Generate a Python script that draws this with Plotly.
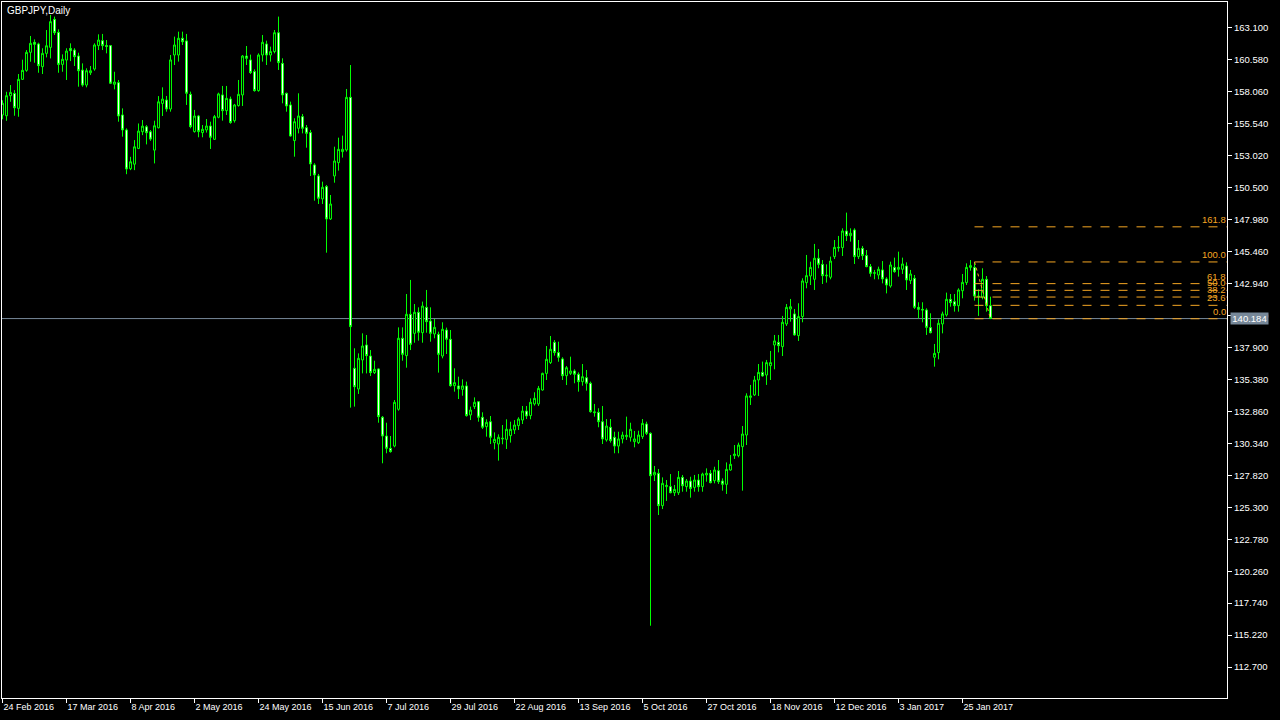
import plotly.graph_objects as go
import pandas as pd

chart_title = "GBPJPY,Daily"
first_date = "2016-02-24"

open_prices = [
    156.24, 156.18, 157.76, 157.94, 156.76, 159.05, 159.76, 161.18, 161.97, 161.84,
    160.05, 161.10, 161.57, 163.78, 162.76, 160.23, 160.57, 161.49, 161.36, 160.89,
    159.78, 158.60, 159.57, 159.86, 161.71, 162.10, 161.71, 161.71, 158.66, 158.79,
    156.24, 155.06, 152.00, 152.36, 153.60, 154.92, 155.31, 154.92, 153.47, 155.23,
    157.15, 157.42, 156.71, 160.97, 160.97, 162.29, 162.08, 157.87, 154.93, 156.16,
    154.85, 155.06, 155.37, 154.32, 156.06, 157.82, 156.58, 157.50, 155.79, 156.98,
    157.82, 160.89, 160.58, 159.66, 158.16, 160.97, 161.84, 160.97, 161.24, 162.73,
    160.31, 157.95, 157.03, 154.22, 155.19, 156.11, 155.24, 154.85, 152.30, 151.43,
    149.62, 150.59, 148.04, 151.43, 152.48, 153.35, 153.48, 157.63, 136.26, 134.63,
    136.92, 138.10, 137.23, 135.92, 136.21, 132.40, 130.92, 129.95, 130.13, 133.03,
    138.63, 137.26, 140.52, 139.02, 140.68, 139.07, 141.07, 139.99, 138.97, 138.94,
    137.23, 139.28, 138.55, 134.89, 134.87, 134.60, 134.87, 132.58, 133.24, 133.63,
    132.40, 131.66, 132.05, 130.40, 130.29, 130.69, 130.66, 130.95, 131.40, 131.74,
    132.18, 132.89, 132.53, 133.45, 133.45, 134.55, 135.86, 136.71, 138.31, 137.50,
    137.00, 135.68, 135.86, 136.05, 135.79, 135.21, 135.52, 135.08, 132.76, 132.79,
    132.05, 130.61, 131.61, 130.82, 130.13, 130.69, 130.87, 130.82, 130.48, 130.40,
    130.87, 131.87, 131.13, 127.85, 127.98, 125.43, 126.93, 126.93, 126.45, 126.45,
    127.66, 126.93, 127.37, 126.87, 127.45, 126.93, 127.85, 127.98, 127.40, 128.19,
    127.37, 127.11, 128.24, 129.37, 129.37, 130.08, 131.00, 133.97, 134.16, 135.34,
    135.94, 135.73, 136.47, 138.10, 138.31, 137.97, 139.76, 140.94, 140.55, 138.84,
    140.34, 143.02, 143.54, 143.28, 144.94, 144.46, 143.54, 143.44, 145.07, 145.75,
    145.78, 147.09, 146.72, 147.17, 145.07, 145.72, 145.15, 144.28, 143.75, 143.62,
    144.02, 143.31, 142.75, 144.22, 144.07, 144.07, 144.33, 143.18, 143.36, 141.07,
    140.91, 140.86, 139.47, 137.13, 137.50, 139.76, 140.47, 141.70, 141.52, 141.20,
    142.38, 143.02, 144.22, 144.22, 141.96, 141.86, 143.28, 141.20,
]
high_prices = [
    157.40, 158.07, 158.60, 158.20, 159.47, 160.60, 161.36, 162.47, 162.20, 161.94,
    161.50, 162.94, 164.13, 164.00, 163.00, 161.02, 161.50, 161.89, 161.50, 161.15,
    160.31, 159.92, 160.10, 161.89, 162.60, 162.63, 162.15, 161.76, 159.65, 159.00,
    156.76, 155.18, 152.94, 154.26, 155.57, 155.84, 155.44, 155.05, 155.79, 157.73,
    158.42, 157.74, 160.97, 162.42, 162.81, 162.81, 162.63, 158.08, 156.64, 156.24,
    155.45, 155.92, 155.71, 156.24, 158.00, 158.53, 158.53, 157.69, 157.11, 159.00,
    160.97, 161.68, 161.00, 159.84, 161.10, 162.55, 162.10, 161.63, 162.94, 164.00,
    160.71, 158.00, 157.29, 155.98, 157.95, 156.32, 155.45, 155.06, 152.43, 151.59,
    150.98, 150.72, 149.93, 153.74, 154.45, 154.61, 158.29, 160.18, 137.84, 137.44,
    139.02, 138.89, 137.70, 136.86, 136.26, 132.50, 131.97, 130.92, 133.76, 139.49,
    139.49, 142.12, 143.23, 141.33, 141.07, 141.52, 142.44, 141.07, 140.15, 139.15,
    139.89, 139.47, 139.28, 136.26, 135.60, 135.39, 135.21, 133.24, 133.97, 133.68,
    132.79, 132.24, 132.50, 131.21, 131.05, 131.79, 132.24, 132.05, 132.18, 132.40,
    133.29, 133.29, 133.89, 134.37, 134.87, 135.92, 138.02, 138.81, 138.49, 138.36,
    137.13, 136.44, 137.18, 136.18, 135.94, 136.60, 136.13, 135.21, 133.45, 133.11,
    133.29, 132.26, 132.26, 131.26, 131.26, 131.26, 132.45, 131.97, 131.32, 131.34,
    132.26, 132.05, 131.21, 128.56, 128.32, 127.66, 127.45, 127.92, 127.06, 128.16,
    127.85, 127.53, 127.71, 127.85, 127.92, 128.03, 128.37, 128.24, 128.50, 129.03,
    127.58, 128.84, 129.42, 130.21, 130.40, 131.71, 134.29, 134.95, 135.66, 136.60,
    136.79, 136.92, 137.63, 138.89, 138.89, 140.39, 141.33, 141.73, 140.94, 141.39,
    143.36, 145.20, 144.67, 146.07, 145.67, 144.80, 144.46, 145.07, 146.38, 146.70,
    147.30, 148.54, 147.30, 147.30, 146.38, 145.91, 145.59, 144.49, 144.02, 144.28,
    144.72, 143.44, 144.67, 144.99, 145.46, 144.99, 144.62, 144.02, 143.62, 141.47,
    141.47, 140.99, 140.60, 138.18, 140.12, 140.73, 142.23, 142.12, 142.12, 142.57,
    143.70, 144.54, 144.80, 144.65, 142.49, 144.15, 143.54, 141.91,
]
low_prices = [
    155.90, 155.78, 157.28, 156.18, 156.10, 159.00, 159.65, 160.44, 160.36, 159.57,
    159.47, 160.78, 160.70, 162.55, 159.57, 159.65, 159.00, 160.49, 160.10, 158.47,
    158.47, 158.42, 159.39, 159.73, 161.36, 161.36, 161.10, 158.68, 158.26, 155.71,
    154.53, 151.57, 151.89, 151.89, 153.55, 154.65, 153.92, 154.20, 152.42, 155.18,
    156.16, 156.50, 156.50, 160.18, 160.45, 161.76, 157.03, 155.19, 154.85, 154.48,
    154.48, 154.85, 153.56, 154.27, 155.98, 155.79, 156.24, 155.55, 155.64, 156.90,
    156.95, 160.18, 159.47, 158.08, 158.08, 160.45, 160.18, 160.45, 161.10, 159.79,
    157.16, 156.50, 154.53, 152.95, 154.79, 154.79, 153.66, 151.43, 149.48, 149.22,
    149.22, 145.38, 147.96, 150.90, 151.85, 152.88, 153.35, 133.16, 133.24, 134.24,
    135.86, 135.86, 135.65, 135.81, 131.97, 128.77, 129.56, 129.61, 130.03, 132.92,
    136.86, 136.31, 137.70, 138.28, 138.44, 138.28, 139.07, 138.36, 138.63, 135.92,
    137.05, 137.39, 134.81, 134.42, 133.84, 134.10, 132.45, 132.18, 133.05, 132.05,
    131.47, 130.87, 130.29, 129.87, 128.98, 130.27, 129.90, 130.40, 131.08, 131.40,
    131.87, 132.26, 132.24, 133.32, 133.29, 134.50, 135.34, 136.60, 137.26, 136.78,
    135.34, 134.94, 135.73, 135.08, 134.42, 134.89, 134.50, 132.76, 132.45, 131.61,
    130.29, 130.48, 130.40, 129.56, 129.56, 130.34, 130.61, 130.48, 130.03, 130.29,
    130.69, 131.00, 115.96, 127.37, 124.69, 125.16, 125.80, 126.40, 126.19, 126.27,
    126.53, 126.53, 126.06, 126.53, 126.53, 126.53, 127.32, 127.19, 127.19, 127.14,
    126.61, 126.35, 128.19, 129.11, 129.24, 126.61, 130.21, 133.37, 134.08, 134.08,
    135.60, 134.95, 135.34, 136.18, 137.52, 137.23, 139.60, 139.94, 138.84, 138.42,
    139.89, 142.57, 142.83, 142.44, 144.15, 142.91, 143.02, 143.28, 144.88, 145.46,
    145.12, 146.30, 146.25, 144.49, 144.88, 144.80, 144.23, 143.49, 143.28, 143.28,
    142.96, 142.17, 142.62, 143.80, 143.49, 143.70, 142.44, 142.91, 140.94, 140.20,
    139.89, 138.89, 139.02, 136.39, 136.97, 139.02, 140.34, 141.12, 140.73, 140.73,
    141.78, 142.83, 143.96, 141.60, 140.39, 141.70, 140.73, 140.17,
]
close_prices = [
    157.16, 157.76, 158.02, 156.81, 159.05, 159.76, 161.18, 161.89, 161.81, 160.13,
    161.10, 161.70, 163.60, 162.73, 160.23, 160.63, 161.28, 161.31, 160.84, 159.73,
    158.60, 159.73, 159.73, 161.76, 162.15, 161.71, 161.65, 158.74, 158.84, 156.16,
    155.06, 151.98, 152.55, 153.73, 154.97, 155.36, 154.84, 154.34, 155.39, 157.28,
    157.49, 156.71, 160.58, 161.76, 162.29, 162.02, 157.95, 155.32, 156.16, 154.93,
    155.11, 155.37, 154.48, 156.11, 157.90, 156.58, 157.55, 155.64, 157.03, 157.87,
    160.89, 160.71, 159.58, 158.16, 160.97, 161.97, 160.97, 161.24, 162.73, 160.37,
    157.82, 156.95, 154.58, 155.71, 156.16, 155.19, 154.79, 152.38, 151.51, 149.67,
    150.54, 148.04, 149.22, 152.61, 153.53, 153.53, 157.63, 139.55, 134.81, 137.05,
    138.02, 137.26, 135.92, 136.18, 132.45, 130.92, 129.95, 129.69, 133.58, 138.63,
    137.36, 140.52, 138.15, 140.68, 139.10, 141.17, 139.94, 139.02, 139.49, 137.36,
    139.34, 138.55, 134.89, 135.13, 134.63, 134.87, 132.53, 132.97, 133.58, 132.40,
    131.61, 132.00, 130.82, 130.66, 130.82, 130.74, 131.45, 131.45, 131.79, 132.26,
    132.89, 132.50, 133.58, 133.89, 134.68, 135.86, 136.97, 137.76, 137.50, 137.13,
    135.68, 136.31, 136.05, 135.79, 135.21, 135.60, 135.08, 132.84, 132.82, 132.05,
    130.69, 131.71, 130.56, 130.13, 130.69, 131.00, 130.98, 131.45, 130.69, 131.00,
    131.92, 131.13, 127.79, 128.06, 125.43, 127.19, 127.03, 126.45, 126.71, 127.66,
    127.00, 127.37, 126.79, 127.45, 126.93, 127.92, 127.98, 127.24, 128.24, 127.32,
    127.11, 128.29, 128.69, 129.50, 130.21, 131.08, 134.08, 134.08, 135.34, 135.94,
    135.66, 136.71, 136.71, 138.42, 138.05, 139.89, 141.07, 141.12, 138.89, 140.34,
    143.15, 143.57, 144.22, 144.94, 144.46, 143.57, 143.60, 144.72, 145.80, 145.80,
    147.09, 146.72, 146.91, 145.07, 145.72, 145.15, 144.28, 143.75, 143.80, 144.07,
    143.31, 142.83, 144.41, 143.88, 144.22, 144.49, 143.23, 143.70, 141.07, 140.91,
    140.86, 139.49, 139.07, 137.44, 139.81, 140.55, 141.70, 141.44, 141.20, 142.44,
    143.04, 144.22, 144.36, 141.96, 141.91, 143.28, 141.20, 140.184,
]

price_ticks = [112.700, 115.220, 117.740, 120.260, 122.780, 125.300, 127.820,
               130.340, 132.860, 135.380, 137.900, 140.420, 142.940, 145.460,
               147.980, 150.500, 153.020, 155.540, 158.060, 160.580, 163.100]
bid_price = 140.184

fib_ratios = [0.0, 23.6, 38.2, 50.0, 61.8, 100.0, 161.8]
fib_high = 144.65
fib_low = 140.17
fib_start_bar = 243
fib_end_bar = 247

# ---- derived from categories ----
n = len(close_prices)
dates = pd.bdate_range(first_date, periods=n)
bars = list(range(n))
date_tick_bars = list(range(0, n, 16))
date_tick_text = [f"{dates[i].day} {dates[i].strftime('%b %Y')}" for i in date_tick_bars]

X_MIN, X_MAX = -0.125, 306.125
Y_MIN, Y_MAX = 110.26, 165.15

LIME = "#00FF00"
ORANGE = "#F5A623"
FONT = "Liberation Sans"

fig = go.Figure()
fig.add_trace(go.Candlestick(
    x=bars, open=open_prices, high=high_prices, low=low_prices, close=close_prices,
    increasing=dict(line=dict(color=LIME, width=1), fillcolor="#000000"),
    decreasing=dict(line=dict(color=LIME, width=1), fillcolor="#FFFFFF"),
    whiskerwidth=0, showlegend=False, hoverinfo="skip",
))

shapes = []
# bid line
shapes.append(dict(type="line", xref="paper", x0=0, x1=1, yref="y", y0=bid_price, y1=bid_price,
                   line=dict(color="#778899", width=1), layer="below"))
annotations = []
# fibonacci levels
for r in fib_ratios:
    lvl = fib_low + (fib_high - fib_low) * r / 100.0
    shapes.append(dict(type="line", xref="x", x0=fib_start_bar, x1=X_MAX, yref="y", y0=lvl, y1=lvl,
                       line=dict(color=ORANGE, width=1, dash="dash"), layer="above"))
    annotations.append(dict(x=X_MAX, y=lvl, xref="x", yref="y", xanchor="right", yanchor="bottom",
                            text=f"{r:.1f}", showarrow=False, xshift=1, yshift=0,
                            font=dict(family=FONT, size=9.5, color=ORANGE)))
shapes.append(dict(type="line", xref="x", yref="y", x0=fib_start_bar, y0=fib_high,
                   x1=fib_end_bar, y1=fib_low, line=dict(color=ORANGE, width=1, dash="dot"),
                   layer="above"))

# bid label on the price scale
annotations.append(dict(x=1, y=bid_price, xref="paper", yref="y", xanchor="left", yanchor="middle",
                        text=f"{bid_price:.3f}", showarrow=False, xshift=3, bgcolor="#778899",
                        borderpad=0, width=37, height=11,
                        font=dict(family=FONT, size=9.5, color="#FFFFFF")))
# title
annotations.append(dict(x=0, y=1, xref="paper", yref="paper", xanchor="left", yanchor="top",
                        text=chart_title, showarrow=False, xshift=3, yshift=-1,
                        font=dict(family=FONT, size=10, color="#FFFFFF")))

fig.update_layout(
    width=1280, height=720, autosize=False,
    paper_bgcolor="#000000", plot_bgcolor="#000000",
    margin=dict(l=2, r=53, t=2, b=22, pad=0),
    showlegend=False,
    shapes=shapes, annotations=annotations,
    font=dict(family=FONT, size=9, color="#FFFFFF"),
    xaxis=dict(range=[X_MIN, X_MAX], showgrid=False, zeroline=False, showline=True, mirror=True,
               linecolor="#FFFFFF", linewidth=1, ticks="outside", ticklen=4, tickcolor="#FFFFFF",
               tickmode="array", tickvals=date_tick_bars, ticktext=date_tick_text,
               ticklabelposition="outside right",
               tickfont=dict(family=FONT, size=9, color="#FFFFFF"),
               rangeslider=dict(visible=False), fixedrange=True),
    yaxis=dict(range=[Y_MIN, Y_MAX], side="right", showgrid=False, zeroline=False, showline=True,
               mirror=True, linecolor="#FFFFFF", linewidth=1, ticks="outside", ticklen=4,
               tickcolor="#FFFFFF", tickmode="array", tickvals=price_ticks,
               ticktext=[f"{v:.3f}" for v in price_ticks],
               tickfont=dict(family=FONT, size=9.5, color="#FFFFFF"), fixedrange=True),
)

fig.write_html(
    "out.html",
    config={"displayModeBar": False, "staticPlot": True},
    post_script="document.body.style.margin='0';document.body.style.background='#000';",
)
